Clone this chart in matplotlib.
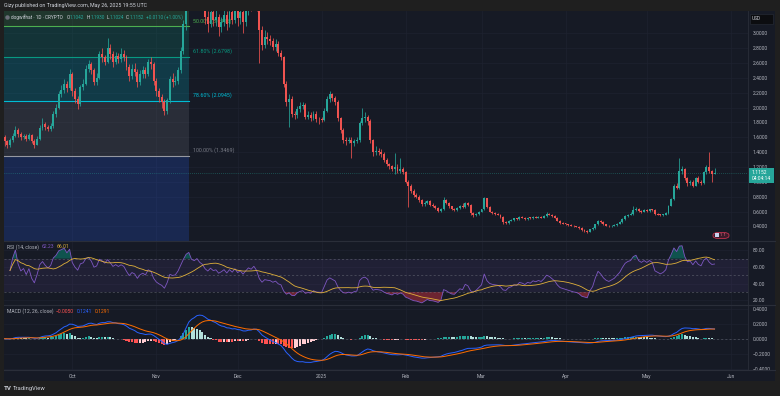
import numpy as np
import pandas as pd
import matplotlib
matplotlib.use("Agg")
import matplotlib.pyplot as plt
from matplotlib.patches import Rectangle, FancyBboxPatch, Ellipse
from matplotlib.lines import Line2D

plt.rcParams['font.family'] = ['Roboto', 'DejaVu Sans']

# day 0 = 1 Oct 2024, daily candles from 6 Sep 2024 to 26 May 2025
first_day = -25
first_open = 1.60

closes = [
    # Sep
    1.55, 1.49, 1.56, 1.62, 1.70, 1.64, 1.60, 1.62, 1.58, 1.63, 1.55, 1.50, 1.58,
    1.72, 1.78, 1.74, 1.71, 1.75, 1.92, 2.00, 2.18, 2.24, 2.32, 2.26, 2.45,
    # Oct
    2.22, 2.12, 2.05, 2.28, 2.32, 2.52, 2.58, 2.50, 2.35, 2.40, 2.72, 2.68, 2.62, 2.80, 2.72, 2.62,
    2.70, 2.65, 2.72, 2.68, 2.55, 2.42, 2.52, 2.48, 2.34, 2.45, 2.50, 2.45, 2.62, 2.58, 2.36,
    # Nov
    2.22, 2.14, 2.08, 1.95, 2.10, 2.38, 2.34, 2.36, 2.50, 2.76, 3.12, 3.55, 3.75, 3.50, 3.45,
    3.62, 3.48, 3.40, 3.22, 3.12, 3.28, 3.18, 3.22, 3.08, 3.15, 3.25, 3.12, 3.28, 3.18, 3.35,
    # Dec
    3.20, 3.28, 3.15, 3.30, 3.45, 3.40, 3.55, 3.40, 3.04, 2.84, 2.95, 2.92, 2.90, 2.82, 2.86, 2.73,
    2.68, 2.32, 2.08, 2.12, 1.92, 1.90, 1.98, 2.02, 2.04, 1.88, 1.90, 1.86, 1.92, 1.85, 1.84,
    # Jan
    1.83, 1.96, 2.12, 2.18, 2.13, 2.08, 1.86, 1.70, 1.57, 1.55, 1.57, 1.52, 1.55, 1.56, 1.79, 1.86,
    1.88, 1.82, 1.56, 1.40, 1.42, 1.40, 1.38, 1.30, 1.24, 1.21, 1.17, 1.20, 1.15, 1.17, 1.13,
    # Feb
    1.00, 0.95, 0.88, 0.82, 0.80, 0.75, 0.70, 0.72, 0.74, 0.69, 0.68, 0.65, 0.61, 0.63,
    0.75, 0.72, 0.67, 0.63, 0.62, 0.65, 0.68, 0.66, 0.72, 0.69, 0.58, 0.55, 0.57, 0.60,
    # Mar
    0.63, 0.78, 0.66, 0.60, 0.58, 0.57, 0.56, 0.53, 0.46, 0.45, 0.48, 0.49, 0.51, 0.50, 0.53, 0.52,
    0.50, 0.52, 0.51, 0.53, 0.52, 0.53, 0.52, 0.54, 0.57, 0.56, 0.54, 0.52, 0.48, 0.45, 0.44,
    # Apr
    0.43, 0.42, 0.41, 0.40, 0.395, 0.38, 0.35, 0.34, 0.33, 0.36, 0.38, 0.43, 0.48, 0.46, 0.43,
    0.41, 0.40, 0.41, 0.42, 0.44, 0.46, 0.50, 0.54, 0.56, 0.57, 0.62, 0.64, 0.61, 0.60, 0.62,
    # May
    0.61, 0.63, 0.62, 0.57, 0.56, 0.55, 0.56, 0.58, 0.68, 0.77, 0.95, 0.92, 1.15,
    1.17, 1.05, 0.98, 1.00, 0.95, 1.05, 1.00, 0.98, 1.13, 1.20, 1.14, 1.1042, 1.1152,
]

highs = [
    1.63, 1.57, 1.59, 1.66, 1.75, 1.72, 1.67, 1.65, 1.64, 1.66, 1.65, 1.58, 1.62,
    1.76, 1.86, 1.81, 1.77, 1.79, 1.95, 2.05, 2.22, 2.31, 2.38, 2.36, 2.52,
    2.48, 2.26, 2.16, 2.31, 2.38, 2.57, 2.64, 2.62, 2.53, 2.46, 2.76, 2.80, 2.71, 2.94, 2.86, 2.76,
    2.75, 2.74, 2.80, 2.78, 2.71, 2.58, 2.58, 2.60, 2.52, 2.50, 2.56, 2.54, 2.66, 2.68, 2.61,
    2.40, 2.26, 2.18, 2.11, 2.13, 2.42, 2.46, 2.42, 2.55, 2.82, 3.18, 3.70, 3.95, 3.80, 3.62,
    3.72, 3.70, 3.55, 3.45, 3.30, 3.35, 3.36, 3.32, 3.26, 3.22, 3.34, 3.30, 3.36, 3.34, 3.42,
    3.40, 3.36, 3.32, 3.40, 3.55, 3.58, 3.65, 3.60, 3.45, 3.10, 3.05, 3.02, 2.98, 2.94, 2.92, 2.90,
    2.78, 2.70, 2.36, 2.18, 2.15, 1.96, 2.02, 2.08, 2.08, 2.06, 1.95, 1.94, 1.96, 1.95, 1.88,
    1.88, 2.00, 2.16, 2.22, 2.20, 2.16, 2.10, 1.88, 1.72, 1.60, 1.61, 1.60, 1.58, 1.60, 1.82, 1.99,
    1.94, 1.90, 1.84, 1.58, 1.48, 1.46, 1.44, 1.40, 1.32, 1.26, 1.23, 1.39, 1.24, 1.32, 1.20,
    1.15, 1.03, 0.97, 0.90, 0.85, 0.82, 0.77, 0.74, 0.76, 0.75, 0.71, 0.69, 0.66, 0.65,
    0.80, 0.77, 0.73, 0.68, 0.65, 0.66, 0.69, 0.72, 0.73, 0.73, 0.70, 0.59, 0.58, 0.61,
    0.64, 0.80, 0.79, 0.67, 0.61, 0.59, 0.58, 0.57, 0.54, 0.47, 0.49, 0.50, 0.52, 0.52, 0.54, 0.54,
    0.53, 0.53, 0.53, 0.54, 0.54, 0.54, 0.54, 0.55, 0.60, 0.58, 0.57, 0.55, 0.53, 0.49, 0.46,
    0.45, 0.44, 0.43, 0.42, 0.41, 0.40, 0.39, 0.36, 0.35, 0.37, 0.39, 0.44, 0.49, 0.49, 0.47,
    0.44, 0.42, 0.42, 0.43, 0.45, 0.47, 0.51, 0.55, 0.57, 0.59, 0.68, 0.66, 0.65, 0.62, 0.63,
    0.63, 0.64, 0.64, 0.63, 0.58, 0.57, 0.57, 0.59, 0.69, 0.79, 0.97, 0.98, 1.32,
    1.22, 1.19, 1.07, 1.03, 1.02, 1.07, 1.08, 1.02, 1.15, 1.23, 1.40, 1.16, 1.193,
]

lows = [
    1.48, 1.46, 1.47, 1.54, 1.60, 1.61, 1.57, 1.58, 1.55, 1.56, 1.53, 1.46, 1.49,
    1.56, 1.70, 1.70, 1.68, 1.69, 1.73, 1.88, 1.98, 2.14, 2.20, 2.21, 2.24,
    2.15, 2.06, 1.98, 2.02, 2.24, 2.30, 2.48, 2.45, 2.30, 2.31, 2.38, 2.62, 2.57, 2.60, 2.66, 2.55,
    2.58, 2.60, 2.62, 2.63, 2.50, 2.36, 2.38, 2.42, 2.28, 2.30, 2.40, 2.40, 2.42, 2.52, 2.30,
    2.16, 2.08, 2.00, 1.90, 1.92, 2.06, 2.28, 2.30, 2.32, 2.46, 2.72, 3.05, 3.45, 3.40, 3.35,
    3.40, 3.38, 3.32, 3.12, 3.02, 3.08, 3.10, 3.10, 2.96, 3.02, 3.10, 3.05, 3.08, 3.12, 3.14,
    3.10, 3.12, 3.00, 3.10, 3.25, 3.30, 3.35, 3.30, 2.60, 2.77, 2.80, 2.86, 2.84, 2.78, 2.76, 2.70,
    2.64, 2.28, 2.02, 1.74, 1.88, 1.84, 1.86, 1.94, 1.98, 1.84, 1.84, 1.82, 1.83, 1.80, 1.78,
    1.80, 1.82, 1.94, 2.08, 2.09, 2.04, 1.82, 1.66, 1.52, 1.50, 1.52, 1.32, 1.48, 1.52, 1.54, 1.76,
    1.80, 1.76, 1.52, 1.35, 1.36, 1.36, 1.34, 1.27, 1.21, 1.18, 1.14, 1.10, 1.12, 1.12, 1.10,
    0.98, 0.66, 0.85, 0.80, 0.78, 0.73, 0.68, 0.68, 0.70, 0.67, 0.66, 0.63, 0.60, 0.60,
    0.62, 0.70, 0.65, 0.62, 0.61, 0.61, 0.64, 0.65, 0.65, 0.67, 0.55, 0.53, 0.54, 0.56,
    0.59, 0.62, 0.65, 0.59, 0.57, 0.56, 0.55, 0.52, 0.44, 0.43, 0.44, 0.47, 0.48, 0.49, 0.49, 0.51,
    0.49, 0.49, 0.50, 0.50, 0.51, 0.51, 0.51, 0.51, 0.53, 0.55, 0.53, 0.51, 0.47, 0.44, 0.43,
    0.42, 0.41, 0.40, 0.39, 0.39, 0.37, 0.34, 0.32, 0.31, 0.32, 0.35, 0.37, 0.42, 0.45, 0.42,
    0.40, 0.39, 0.39, 0.40, 0.41, 0.43, 0.45, 0.49, 0.53, 0.55, 0.56, 0.61, 0.60, 0.58, 0.59,
    0.60, 0.60, 0.61, 0.56, 0.55, 0.54, 0.54, 0.55, 0.57, 0.67, 0.76, 0.90, 0.91,
    1.10, 1.02, 0.95, 0.96, 0.93, 0.94, 0.98, 0.96, 0.97, 1.11, 1.12, 1.00, 1.1024,
]

month_days = [0, 31, 61, 92, 123, 151, 182, 212, 243]
month_labels = ["Oct", "Nov", "Dec", "2025", "Feb", "Mar", "Apr", "May", "Jun"]
price_ticks = [0.4, 0.6, 0.8, 1.0, 1.2, 1.4, 1.6, 1.8, 2.0, 2.2, 2.4, 2.6, 2.8, 3.0]
rsi_ticks = [20, 40, 60, 80]
macd_ticks = [-0.4, -0.2, 0.0, 0.2, 0.4]

fib_names = ["50.00%", "61.80%", "78.60%", "100.00%"]
fib_prices = [3.0916, 2.6798, 2.0945, 1.3469]
fib_colors = ['#4caf50', '#089981', '#00bcd4', '#787b86']
fib_zero = 4.8362
fib_ext = -0.8095
fib_end = 43.1

legend_ohlc = [("O", "1.1042"), ("H", "1.1930"), ("L", "1.1024"), ("C", "1.1152")]
legend_change = "+0.0110 (+1.00%)"
last_price = 1.1152
countdown = "04:04:14"

UP, DOWN = '#26a69a', '#ef5350'
BG = '#161a25'
FRAME = '#1f1f1f'
TXT = '#b2b5be'
GRID = '#1e2230'

W, H = 780, 396


def box(x0, y0, x1, y1):
    return [x0 / W, 1 - y1 / H, (x1 - x0) / W, (y1 - y0) / H]


def pt(x, y):
    return x / W, 1 - y / H


fig = plt.figure(figsize=(7.8, 3.96), dpi=100, facecolor=FRAME)
renderer = fig.canvas.get_renderer()


def text_row(x, y, parts, size=3.6):
    # draw text pieces one after another, each starting where the last ended
    for txt, col, gap in parts:
        t = fig.text(*pt(x, y), txt, fontsize=size, color=col, va='center', zorder=2)
        x += t.get_window_extent(renderer).width + gap


fig.add_artist(Rectangle(pt(4, 381), 771 / W, 370 / H, transform=fig.transFigure,
                         facecolor=BG, edgecolor='none', zorder=-5))

ax = fig.add_axes(box(4, 11, 748, 241))
ax_rsi = fig.add_axes(box(4, 241, 748, 305))
ax_macd = fig.add_axes(box(4, 305, 748, 370))

days = np.arange(first_day, first_day + len(closes))
c = np.array(closes)
o = np.concatenate([[first_open], c[:-1]])
hi = np.array(highs)
lo = np.array(lows)

xlim = ((4 - 72.3) / 2.71, (748 - 72.3) / 2.71)

for a in (ax, ax_rsi, ax_macd):
    a.set_facecolor(BG)
    a.set_xlim(*xlim)
    for s in a.spines.values():
        s.set_visible(False)
    a.set_xticks(month_days)
    a.tick_params(axis='x', length=0, labelbottom=False)
    a.yaxis.tick_right()
    a.tick_params(axis='y', length=0, pad=3.5, labelsize=3.6, labelcolor=TXT)
    a.grid(True, color=GRID, lw=0.5)
    a.set_axisbelow(True)

# ---- main price pane
ax.set_ylim(0.2046, 3.30)
ax.set_yticks(price_ticks)
ax.set_yticklabels([f"{v:.4f}" for v in price_ticks])

# fib retracement zones
zone_edges = [fib_zero] + fib_prices + [fib_ext]
zone_colors = ['#4caf50', '#089981', '#00bcd4', '#787b86', '#2962ff']
for k in range(len(zone_colors)):
    top, bot = zone_edges[k], zone_edges[k + 1]
    ax.add_patch(Rectangle((xlim[0] - 5, bot), fib_end - xlim[0] + 5, top - bot,
                           facecolor=zone_colors[k], alpha=0.2, edgecolor='none', zorder=1))
for name, p, col in zip(fib_names, fib_prices, fib_colors):
    lc = '#9598a1' if col == '#787b86' else col
    ax.plot([xlim[0] - 5, fib_end], [p, p], color=lc, lw=0.8, zorder=1.5)
    ax.text(fib_end + 1.3, p + 0.075, f"{name} ({p:.4f})", color=col, fontsize=3.9,
            va='center', ha='left', zorder=1.6)

ax.axhline(last_price, color=UP, lw=0.5, ls=(0, (1, 2)), alpha=0.7, zorder=1.7)

colors = np.where(c >= o, UP, DOWN)
ax.vlines(days, lo, hi, colors=colors, lw=0.55, zorder=3)
body = np.maximum(np.abs(c - o), 0.012)
ax.bar(days, body, bottom=np.minimum(o, c), width=0.72, color=colors, lw=0, zorder=3.1)

# ---- RSI pane (first two bars skipped: too few deltas to be meaningful)
s = pd.Series(closes)
delta = s.diff().fillna(0.0)
up_avg = delta.clip(lower=0).ewm(alpha=1 / 14, adjust=True).mean()
dn_avg = (-delta.clip(upper=0)).ewm(alpha=1 / 14, adjust=True).mean()
rsi = (100 - 100 / (1 + up_avg / dn_avg.replace(0, np.nan))).fillna(50).to_numpy()
rsi[:2] = np.nan
rsi_ma = pd.Series(rsi).rolling(14, min_periods=1).mean().to_numpy()

ax_rsi.set_ylim(14.5, 91.1)
ax_rsi.set_yticks(rsi_ticks)
ax_rsi.set_yticklabels([f"{v:.2f}" for v in rsi_ticks])
ax_rsi.axhspan(30, 70, color='#7e57c2', alpha=0.1, lw=0)
for lvl in (70, 50, 30):
    ax_rsi.axhline(lvl, color='#787b86', lw=0.5, ls=(0, (3, 3)), alpha=0.6)
rsi_f = np.nan_to_num(rsi, nan=50.0)
ax_rsi.fill_between(days, 70, rsi_f, where=rsi_f > 70, color='#089981', alpha=0.45, lw=0, interpolate=True)
ax_rsi.fill_between(days, 30, rsi_f, where=rsi_f < 30, color='#f23645', alpha=0.4, lw=0, interpolate=True)
ax_rsi.plot(days, rsi, color='#7e57c2', lw=0.6)
ax_rsi.plot(days, rsi_ma, color='#e0b13a', lw=0.6)

# ---- MACD pane
ema12 = s.ewm(span=12, adjust=False).mean()
ema26 = s.ewm(span=26, adjust=False).mean()
macd = (ema12 - ema26).to_numpy()
signal = pd.Series(macd).ewm(span=9, adjust=False).mean().to_numpy()
hist = macd - signal
prev = np.concatenate([[0.0], hist[:-1]])
hcol = np.where(hist >= 0, np.where(hist > prev, '#26a69a', '#b2dfdb'),
                np.where(hist > prev, '#ffcdd2', '#ff5252'))

ax_macd.set_ylim(-0.417, 0.449)
ax_macd.set_yticks(macd_ticks)
ax_macd.set_yticklabels([f"{v:.4f}".replace('-', '\u2212') for v in macd_ticks])
ax_macd.axhline(0, color='#787b86', lw=0.5, ls=(0, (3, 3)), alpha=0.6)
ax_macd.bar(days, hist, width=0.75, color=hcol, lw=0)
ax_macd.plot(days, macd, color='#2962ff', lw=0.7)
ax_macd.plot(days, signal, color='#ff6d00', lw=0.7)
ax_macd.tick_params(axis='x', labelbottom=True, labelsize=3.6, labelcolor=TXT, pad=3)
ax_macd.set_xticklabels(month_labels)

# ---- separators
for y in (241, 305, 370):
    fig.add_artist(Line2D([4 / W, 775 / W], [1 - y / H] * 2, transform=fig.transFigure,
                          color='#2a2e39', lw=0.8, zorder=4))
fig.add_artist(Line2D([748 / W] * 2, [1 - 11 / H, 1 - 370 / H], transform=fig.transFigure,
                      color='#2a2e39', lw=0.6, zorder=4))

# ---- texts
fig.text(*pt(4, 5.5), "Gizy published on TradingView.com, May 26, 2025 19:55 UTC",
         fontsize=3.8, color='#d1d4dc', va='center')

fig.add_artist(Ellipse(pt(7.5, 17.5), 4.5 / W, 4.5 / H, transform=fig.transFigure,
                       facecolor='#6a6d78', edgecolor='none', zorder=5))
parts = [("dogwifhat \u00b7 1D \u00b7 CRYPTO", '#d1d4dc', 3.5)]
for letter, val in legend_ohlc:
    parts += [(letter, '#d1d4dc', 0.3), (val, UP, 2.2)]
parts.append((legend_change, UP, 0))
text_row(11, 17.5, parts, size=3.4)

text_row(7, 247, [("RSI (14, close)", TXT, 2.5), ("62.23", '#7e57c2', 3),
                  ("66.01", '#e0b13a', 0)])
text_row(7, 311.5, [("MACD (12, 26, close)", TXT, 2.5), ("\u22120.0050", '#ff5252', 2.5),
                    ("0.1241", '#2962ff', 2.5), ("0.1291", '#ff6d00', 0)])

# USD box and last price tag on the price scale
fig.add_artist(Rectangle(pt(750, 24), 23 / W, 10 / H, transform=fig.transFigure,
                         facecolor='#0c0d10', edgecolor='#2a2e39', lw=0.4, zorder=5))
fig.text(*pt(752, 19), "USD", fontsize=3.4, color='#d1d4dc', va='center', zorder=6)
fig.add_artist(Rectangle(pt(748.5, 183), 25.5 / W, 14.5 / H, transform=fig.transFigure,
                         facecolor=UP, edgecolor='none', zorder=5))
fig.text(*pt(752, 172.6), f"{last_price:.4f}", fontsize=3.6, color='white', va='center', zorder=6)
fig.text(*pt(752, 178.8), countdown, fontsize=3.6, color='white', va='center', zorder=6)

# event marker
fig.add_artist(FancyBboxPatch(pt(713, 238.5), 16 / W, 6 / H, transform=fig.transFigure,
                              boxstyle="round,pad=0,rounding_size=0.007", facecolor='#3d1b2a',
                              edgecolor='#c2334e', lw=0.6, zorder=5))
fig.add_artist(Rectangle(pt(715, 237.5), 4 / W, 4 / H, transform=fig.transFigure,
                         facecolor='#c9d3f0', edgecolor='none', zorder=6))
fig.text(*pt(720.5, 235.5), "1 1", fontsize=3.2, color='#e06d86', va='center', zorder=6)

# bottom logo
fig.text(*pt(4, 388.5), "TV", fontsize=4.4, color='#d1d4dc', va='center', weight='bold')
fig.text(*pt(12.5, 388.5), "TradingView", fontsize=4.2, color='#d1d4dc', va='center')

fig.savefig("out.png", dpi=100, facecolor=FRAME)
